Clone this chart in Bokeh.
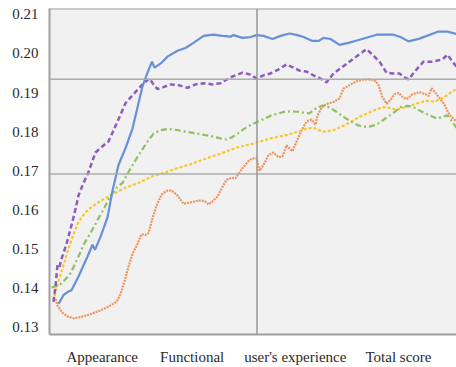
from bokeh.plotting import figure
from bokeh.models import Range1d, FixedTicker, Span
from bokeh.embed import file_html
from bokeh.resources import INLINE

# Score curves along the evaluation axis (x in steps, y in score)
blue_x = [9, 14, 18, 22, 29, 38, 43, 45.5, 51, 58, 63, 69, 76, 83, 93, 98, 102.5, 105, 111, 118,
          128, 136, 144, 154, 164, 173, 181, 184, 193, 201, 207, 214, 223, 231, 240, 248, 254, 263,
          269, 274, 281, 290, 299, 310, 327, 344, 351, 359, 370, 389, 398, 407]
blue_y = [0.1360, 0.1382, 0.1390, 0.1395, 0.1430, 0.1481, 0.1511, 0.1498, 0.1531, 0.1581, 0.1649,
          0.1715, 0.1758, 0.1808, 0.1916, 0.1951, 0.1979, 0.1964, 0.1974, 0.1992, 0.2007, 0.2014,
          0.2027, 0.2045, 0.2048, 0.2045, 0.2043, 0.2047, 0.2040, 0.2042, 0.2047, 0.2045, 0.2037,
          0.2045, 0.2051, 0.2047, 0.2042, 0.2032, 0.2032, 0.2040, 0.2037, 0.2022, 0.2027, 0.2035,
          0.2048, 0.2048, 0.2042, 0.2031, 0.2038, 0.2056, 0.2056, 0.2050]

purple_x = [4, 6, 8, 10, 12, 17, 21, 25, 29, 34, 39, 46, 54, 59, 68, 76, 84, 93, 100, 104, 108,
            114, 121, 129, 138, 146, 154, 163, 171, 181, 193, 201, 207, 214, 221, 229, 237, 244,
            250, 257, 264, 271, 277, 284, 291, 304, 317, 323, 330, 337, 343, 350, 355, 359, 367,
            374, 383, 393, 398, 403, 407]
purple_y = [0.1365, 0.1405, 0.1460, 0.1455, 0.1475, 0.1513, 0.1551, 0.1591, 0.1637, 0.1669, 0.1697,
            0.1747, 0.1765, 0.1775, 0.1826, 0.1873, 0.1896, 0.1921, 0.1936, 0.1921, 0.1909, 0.1914,
            0.1921, 0.1919, 0.1912, 0.1921, 0.1924, 0.1921, 0.1924, 0.1939, 0.1951, 0.1946, 0.1936,
            0.1944, 0.1949, 0.1959, 0.1972, 0.1964, 0.1956, 0.1954, 0.1944, 0.1936, 0.1926, 0.1949,
            0.1962, 0.1987, 0.2011, 0.1997, 0.1979, 0.1951, 0.1949, 0.1949, 0.1939, 0.1934, 0.1959,
            0.1979, 0.1979, 0.1985, 0.1997, 0.1979, 0.1967]

orange_x = [6, 8, 13, 18, 24, 31, 39, 49, 59, 67, 71, 75, 79, 83, 88, 92, 96, 99, 103, 107, 112,
            117, 122, 128, 134, 141, 149, 155, 159, 163, 168, 173, 177, 182, 186, 193, 199, 203,
            207, 210, 214, 219, 224, 229, 233, 237, 243, 247, 252, 257, 262, 266, 268, 272, 277,
            284, 290, 294, 300, 307, 314, 321, 326, 329, 333, 337, 341, 345, 349, 354, 357, 363,
            370, 376, 379, 382, 387, 394, 400, 407]
orange_y = [0.1372, 0.1355, 0.1337, 0.1328, 0.1323, 0.1326, 0.1332, 0.1341, 0.1353, 0.1365, 0.1385,
            0.1418, 0.1455, 0.1488, 0.1513, 0.1538, 0.1536, 0.1541, 0.1579, 0.1611, 0.1639, 0.1649,
            0.1650, 0.1637, 0.1616, 0.1619, 0.1624, 0.1623, 0.1614, 0.1622, 0.1634, 0.1659, 0.1677,
            0.1682, 0.1681, 0.1707, 0.1725, 0.1732, 0.1732, 0.1700, 0.1715, 0.1740, 0.1747, 0.1735,
            0.1737, 0.1765, 0.1750, 0.1775, 0.1803, 0.1826, 0.1831, 0.1818, 0.1841, 0.1861, 0.1871,
            0.1876, 0.1885, 0.1910, 0.1919, 0.1929, 0.1933, 0.1934, 0.1929, 0.1919, 0.1888, 0.1872,
            0.1881, 0.1896, 0.1899, 0.1887, 0.1883, 0.1896, 0.1901, 0.1896, 0.1891, 0.1911, 0.1896,
            0.1873, 0.1843, 0.1826]

green_x = [2, 7, 11, 16, 21, 28, 34, 41, 48, 54, 61, 68, 73, 79, 89, 98, 104, 111, 118, 126, 134,
           148, 161, 171, 177, 182, 188, 195, 201, 207, 214, 221, 228, 235, 241, 248, 254, 260,
           267, 273, 280, 287, 294, 301, 308, 314, 320, 327, 337, 344, 351, 358, 364, 371, 378,
           387, 392, 398, 402, 407]
green_y = [0.1402, 0.1405, 0.1410, 0.1423, 0.1438, 0.1475, 0.1511, 0.1541, 0.1574, 0.1601, 0.1637,
           0.1659, 0.1669, 0.1697, 0.1740, 0.1775, 0.1795, 0.1804, 0.1807, 0.1805, 0.1801, 0.1795,
           0.1789, 0.1783, 0.1780, 0.1785, 0.1795, 0.1808, 0.1817, 0.1824, 0.1832, 0.1841, 0.1846,
           0.1851, 0.1852, 0.1851, 0.1849, 0.1847, 0.1861, 0.1867, 0.1862, 0.1851, 0.1838, 0.1827,
           0.1817, 0.1813, 0.1813, 0.1818, 0.1836, 0.1848, 0.1863, 0.1866, 0.1863, 0.1853, 0.1844,
           0.1834, 0.1837, 0.1842, 0.1828, 0.1810]

yellow_x = [4, 6, 9, 13, 18, 23, 28, 33, 38, 44, 51, 63, 76, 89, 103, 116, 128, 141, 154, 171, 188,
            204, 221, 238, 248, 257, 264, 269, 274, 284, 297, 310, 324, 332, 338, 347, 360, 371,
            377, 385, 394, 407]
yellow_y = [0.1367, 0.1392, 0.1418, 0.1450, 0.1493, 0.1531, 0.1564, 0.1584, 0.1599, 0.1611, 0.1623,
            0.1640, 0.1657, 0.1669, 0.1686, 0.1696, 0.1707, 0.1717, 0.1729, 0.1744, 0.1760, 0.1770,
            0.1783, 0.1792, 0.1800, 0.1808, 0.1810, 0.1804, 0.1800, 0.1804, 0.1819, 0.1838, 0.1854,
            0.1862, 0.1862, 0.1856, 0.1866, 0.1875, 0.1879, 0.1877, 0.1887, 0.1910]

# Category labels along the x axis
category_pos = [52.7, 142.7, 245.8, 349]
category_labels = ["Appearance", "Functional", "user's experience", "Total score"]

y_ticks = [0.13, 0.14, 0.15, 0.16, 0.17, 0.18, 0.19, 0.20, 0.21]

# Reference lines
h_refs = [0.1934, 0.1692]
v_refs = [207.5]

FONT = "Liberation Serif"
TEXT_COLOR = "#2a2a2a"

p = figure(width=456, height=367, output_backend="svg", toolbar_location=None,
           x_range=Range1d(0, 407), y_range=Range1d(0.12816, 0.2115),
           min_border_left=49, min_border_right=0, min_border_top=8, min_border_bottom=28)
p.background_fill_color = "#f1f1f1"
p.border_fill_color = "white"
p.outline_line_color = None
p.xgrid.visible = False
p.ygrid.visible = False

for loc in h_refs:
    p.add_layout(Span(location=loc, dimension="width", line_color="#acacac", line_width=1.6))
for loc in v_refs:
    p.add_layout(Span(location=loc, dimension="height", line_color="#9c9c9c", line_width=1.6))
p.add_layout(Span(location=0.2115, dimension="width", line_color="#a0a0a0", line_width=2))

p.line(orange_x, orange_y, line_color="#f0935c", line_width=2.2, line_dash="2 1")
p.line(yellow_x, yellow_y, line_color="#f8c52a", line_width=2.2, line_dash="3 2")
p.line(green_x, green_y, line_color="#8fc05e", line_width=2.2, line_dash="6 3 2 3")
p.line(purple_x, purple_y, line_color="#8c5cbf", line_width=2.5, line_dash="5 3")
p.line(blue_x, blue_y, line_color="#6690d8", line_width=2.2)

ax = p.xaxis[0]
ax.ticker = FixedTicker(ticks=category_pos)
ax.major_label_overrides = {v: t for v, t in zip(category_pos, category_labels)}
ax.major_tick_line_color = None
ax.minor_tick_line_color = None
ax.axis_line_color = "#a0a0a0"
ax.axis_line_width = 2
ax.major_label_standoff = 8
ax.major_label_text_font = FONT
ax.major_label_text_font_size = "15px"
ax.major_label_text_color = TEXT_COLOR

ay = p.yaxis[0]
ay.ticker = FixedTicker(ticks=y_ticks)
ay.major_label_overrides = {v: f"{v:.2f}" for v in y_ticks}
ay.major_tick_line_color = None
ay.minor_tick_line_color = None
ay.axis_line_color = "#a0a0a0"
ay.axis_line_width = 2
ay.major_label_standoff = 5
ay.major_label_text_font = FONT
ay.major_label_text_font_size = "15px"
ay.major_label_text_color = TEXT_COLOR

open("out.html", "w").write(file_html(p, INLINE))
